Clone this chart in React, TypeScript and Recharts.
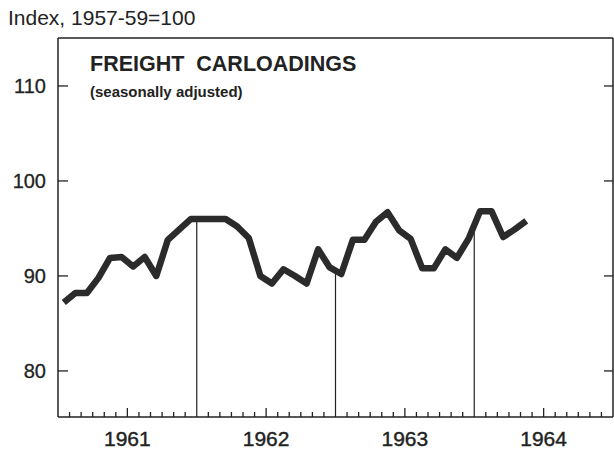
import React from 'react';
import { LineChart, Line, XAxis, YAxis, ReferenceLine } from 'recharts';

// Freight carloadings, monthly, Jan 1961 - May 1964 (index, 1957-59 = 100)
const years = ['1961', '1962', '1963', '1964'];
const carloadings = [
  87.2, 88.2, 88.2, 89.8, 91.9, 92.0, 91.0, 92.0, 90.0, 93.8, 94.9, 96.0, // 1961
  96.0, 96.0, 96.0, 95.2, 94.0, 90.0, 89.2, 90.7, 90.0, 89.2, 92.8, 90.9, // 1962
  90.2, 93.8, 93.8, 95.7, 96.7, 94.8, 93.9, 90.8, 90.8, 92.8, 91.9, 93.9, // 1963
  96.8, 96.8, 94.1, 94.9, 95.8, // 1964
];
const yTicks = [80, 90, 100, 110];

const Y_MIN = 75.15;
const Y_MAX = 115.05;
const MONTHS = years.length * 12;
const INK = '#222';
const FONT = '"Liberation Sans", Arial, sans-serif';

const data = carloadings.map((v, i) => ({ t: i + 0.5, v }));
const monthTicks = Array.from({ length: MONTHS + 1 }, (_, i) => i);

// year boundaries inside the series, line drawn up to where the series crosses
const yearMarks = [12, 24, 36]
  .filter((m) => m < carloadings.length)
  .map((m) => ({ x: m, top: (carloadings[m - 1] + carloadings[m]) / 2 }));

const BottomTick = (props: any) => {
  const { x, y, payload } = props;
  const n = payload.value;
  if (n % 12 === 0) return <g />;
  const mid = n % 12 === 6;
  return (
    <g>
      <line x1={x} x2={x} y1={y} y2={y - (mid ? 9 : 5)} stroke={INK} strokeWidth={1.3} />
      {mid && (
        <text x={x} y={y + 29} textAnchor="middle" fontSize={21} fontFamily={FONT} fill={INK} stroke={INK} strokeWidth={0.4}>
          {years[(n - 6) / 12]}
        </text>
      )}
    </g>
  );
};

const LeftTick = (props: any) => {
  const { x, y, payload } = props;
  return (
    <g>
      <line x1={x} x2={x + 10} y1={y} y2={y} stroke={INK} strokeWidth={1.3} />
      <text x={x - 12} y={y + 7} textAnchor="end" fontSize={20} fontFamily={FONT} fill={INK} stroke={INK} strokeWidth={0.3}>
        {payload.value}
      </text>
    </g>
  );
};

const RightTick = (props: any) => {
  const { x, y } = props;
  return <line x1={x - 9} x2={x} y1={y} y2={y} stroke={INK} strokeWidth={1.3} />;
};

export default function App() {
  return (
    <div style={{ position: 'absolute', left: 0, top: 0, width: 614, height: 452, background: '#fff', overflow: 'hidden' }}>
      <div style={{ position: 'absolute', left: 8, top: 7, fontSize: 21, lineHeight: 1, fontFamily: FONT, color: INK, whiteSpace: 'pre' }}>
        Index, 1957-59=100
      </div>
      <div style={{ position: 'absolute', left: 90, top: 54, fontSize: 21.5, lineHeight: 1, fontWeight: 'bold', fontFamily: FONT, color: INK, whiteSpace: 'pre' }}>
        FREIGHT  CARLOADINGS
      </div>
      <div style={{ position: 'absolute', left: 90, top: 84, fontSize: 15, lineHeight: 1, fontWeight: 'bold', fontFamily: FONT, color: INK, whiteSpace: 'pre' }}>
        (seasonally adjusted)
      </div>
      <LineChart width={614} height={452} data={data} margin={{ top: 37, right: 0, bottom: 0, left: 0 }}>
        <XAxis
          xAxisId="bottom"
          dataKey="t"
          type="number"
          domain={[0, MONTHS]}
          ticks={monthTicks}
          interval={0}
          height={35}
          tickSize={0}
          tickMargin={0}
          tickLine={false}
          axisLine={{ stroke: INK, strokeWidth: 1.5 }}
          tick={<BottomTick />}
        />
        <XAxis
          xAxisId="top"
          orientation="top"
          type="number"
          domain={[0, MONTHS]}
          height={1}
          tick={false}
          tickLine={false}
          axisLine={{ stroke: INK, strokeWidth: 1.5 }}
        />
        <YAxis
          yAxisId="left"
          type="number"
          domain={[Y_MIN, Y_MAX]}
          allowDataOverflow
          ticks={yTicks}
          width={58}
          tickSize={0}
          tickMargin={0}
          tickLine={false}
          axisLine={{ stroke: INK, strokeWidth: 1.5 }}
          tick={<LeftTick />}
        />
        <YAxis
          yAxisId="right"
          orientation="right"
          type="number"
          domain={[Y_MIN, Y_MAX]}
          allowDataOverflow
          ticks={yTicks}
          width={1}
          tickSize={0}
          tickMargin={0}
          tickLine={false}
          axisLine={{ stroke: INK, strokeWidth: 1.5 }}
          tick={<RightTick />}
        />
        {yearMarks.map((m) => (
          <ReferenceLine
            key={m.x}
            xAxisId="bottom"
            yAxisId="left"
            segment={[{ x: m.x, y: Y_MIN }, { x: m.x, y: m.top }]}
            stroke={INK}
            strokeWidth={1.2}
          />
        ))}
        <Line
          xAxisId="bottom"
          yAxisId="left"
          type="linear"
          dataKey="v"
          stroke="#2b2b2b"
          strokeWidth={6.5}
          strokeLinejoin="round"
          dot={false}
          activeDot={false}
          isAnimationActive={false}
        />
      </LineChart>
    </div>
  );
}
